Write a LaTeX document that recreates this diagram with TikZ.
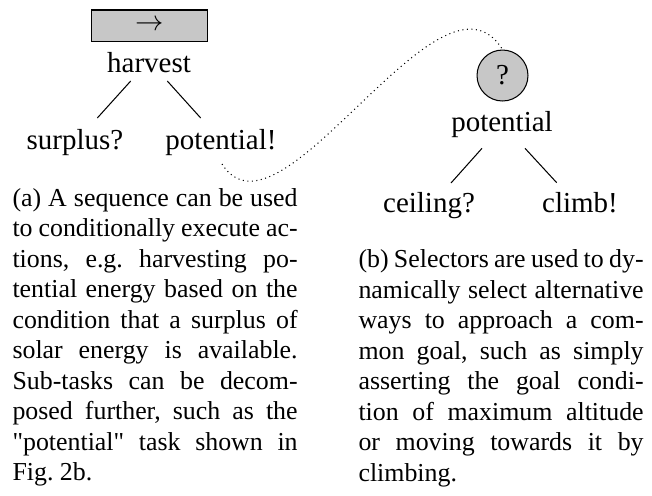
\documentclass[tikz,border=0pt]{standalone}
\usepackage{fontspec}
\setmainfont{Liberation Serif}
\usepackage{tikz}
\usetikzlibrary{calc}
\usetikzlibrary{shapes.geometric}
\tikzstyle{task} = [inner sep=0pt, anchor=base, font=\fontsize{11.2}{13}\selectfont]
\tikzstyle{seqnode} = [rectangle,
minimum width=45.2pt,
minimum height=12pt,
inner sep=0pt,
draw=black,
fill=black!22]
\tikzstyle{selnode} = [circle,
minimum size=19.7pt,
inner sep=0pt,
draw=black,
fill=black!22]
\tikzstyle{edge} = [line width=0.4pt]
\tikzstyle{link} = [line width=0.4pt, dash pattern=on 0.4pt off 1.35pt]
\tikzstyle{caption} = [inner sep=0pt, anchor=base west, text width=110.2pt, align=justify,
font=\fontsize{10}{11.8}\selectfont,
execute at begin node={\frenchspacing\tolerance=10000\relax\hyphenpenalty=10000\relax}]

\begin{document}
\begin{tikzpicture}[x=0.3865pt, y=-0.3865pt]
    \useasboundingbox (0,0) rectangle (652,495);

    % sequence
    \node (seq) [seqnode, task, anchor=center] at (149.5,25.5) {$\rightarrow$};
    \node (harvest) [task] at (149,72) {harvest};
    \node (surplus) [task] at (75,149) {surplus?};
    \node (potb) [task] at (221,149) {potential!};

    \draw [edge] ($(harvest.base)+(-18.3,9)$) -- ($(surplus.base)+(22.3,-31)$);
    \draw [edge] ($(harvest.base)+(18.3,9)$) -- ($(potb.base)+(-20.3,-31)$);

    % selector
    \node (sel) [selnode, task, anchor=center] at (502.5,75.5) {?};
    \node (potential) [task] at (502,131) {potential};
    \node (ceiling) [task] at (429,212) {ceiling?};
    \node (climb) [task] at (580,212) {climb!};

    \draw [edge] ($(potential.base)+(-20,17.3)$) -- ($(ceiling.base)+(22,-29)$);
    \draw [edge] ($(potential.base)+(23,17.3)$) -- ($(climb.base)+(-23.3,-29.3)$);

    % decomposition
    \draw [link] ($(potb.base)+(1,15)$) .. controls +(58,91) and +(-62,-100) .. (sel.north);

    % captions
    \node (capa) [caption] at (12,206) {(a) A sequence can be used\linebreak
    to conditionally execute ac-\linebreak
    tions, e.g. harvesting po-\linebreak
    tential energy based on the\linebreak
    condition that a surplus of\linebreak
    solar energy is available.\linebreak
    Sub-tasks can be decom-\linebreak
    posed further, such as the\linebreak
    \textquotedbl potential\textquotedbl{} task shown in\linebreak
    Fig. 2b.};
    \node (capb) [caption] at (358,267.5) {(b) Selectors are used to dy-\linebreak
    namically select alternative\linebreak
    ways to approach a com-\linebreak
    mon goal, such as simply\linebreak
    asserting the goal condi-\linebreak
    tion of maximum altitude\linebreak
    or moving towards it by\linebreak
    climbing.};
  \end{tikzpicture}
\end{document}
